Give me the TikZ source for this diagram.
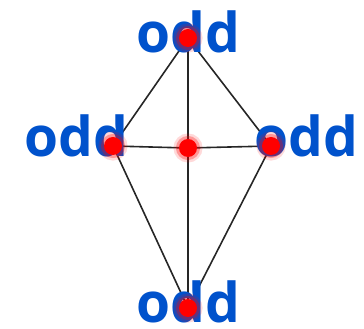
\documentclass[tikz,border=0pt]{standalone}
\usepackage{fontspec}
\setmainfont{Open Sans}
\usepackage{xcolor}
\definecolor{oddblue}{RGB}{0,82,204}

\begin{document}
\begin{tikzpicture}[x=1pt, y=1pt,
    edge/.style={line width=1.6pt, black!85},
    lbl/.style={anchor=base, inner sep=0pt, text=oddblue, font=\bfseries\fontsize{55}{55}\selectfont},
    vtx/.style={circle, fill=red, minimum size=18pt, inner sep=0pt,
        preaction={draw=red, draw opacity=0.15, line width=11pt},
        preaction={draw=red, draw opacity=0.3, line width=6pt}}]
    \useasboundingbox (0,0) rectangle (364,329);

    % Vertices
    \coordinate (t) at (188,291);
    \coordinate (l) at (113,183);
    \coordinate (c) at (188,181);
    \coordinate (r) at (271,183);
    \coordinate (b) at (188,21);

    % Edges
    \draw[edge] (t) -- (l) -- (b) -- (r) -- (t);
    \draw[edge] (t) -- (c) -- (b);
    \draw[edge] (l) -- (c) -- (r);

    % Labels
    \node[lbl] (tlab) at (188,276) {odd};
    \node[lbl] (llab) at (76,172) {odd};
    \node[lbl] (rlab) at (306,172) {odd};
    \node[lbl] (blab) at (188,6) {odd};

    % Dots
    \node[vtx] (vt) at (t) {};
    \node[vtx] (vl) at (l) {};
    \node[vtx] (vc) at (c) {};
    \node[vtx] (vr) at (r) {};
    \node[vtx] (vb) at (b) {};
\end{tikzpicture}
\end{document}
